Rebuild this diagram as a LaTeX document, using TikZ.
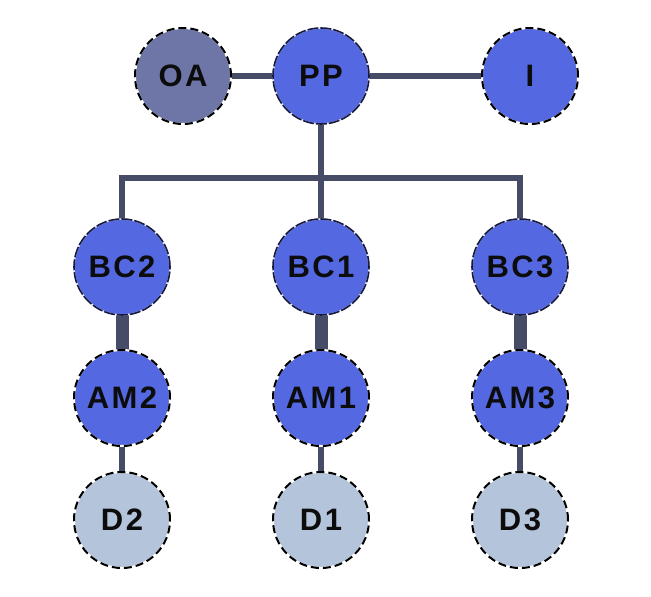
\documentclass[tikz,border=0pt]{standalone}
\usepackage{fontspec}
\setmainfont{Liberation Sans}
\definecolor{nodeblue}{RGB}{84,104,226}
\definecolor{nodegray}{RGB}{110,118,168}
\definecolor{nodelight}{RGB}{180,196,218}
\definecolor{linkc}{RGB}{70,76,102}
\definecolor{txt}{RGB}{12,12,12}
\definecolor{navyb}{RGB}{22,26,60}
\tikzset{
  circbase/.style={circle, minimum size=96pt, inner sep=0pt, fill=#1,
    font=\fontsize{31}{31}\bfseries\addfontfeatures{LetterSpace=8}, text=txt},
  circ/.style={circbase=#1,
    postaction={draw=white, line width=2pt},
    postaction={draw=black, line width=2pt, dash pattern=on 8pt off 4pt}},
  circm/.style={circbase=#1,
    postaction={draw=white!85!nodeblue, line width=1.6pt},
    postaction={draw=navyb, line width=1.6pt, dash pattern=on 11pt off 2pt}},
  link/.style={draw=linkc, line width=#1},
}
\begin{document}
\begin{tikzpicture}[x=1pt,y=-1pt]
\useasboundingbox (0,0) rectangle (651,597);
\fill[white] (0,0) rectangle (651,597);
\coordinate (pOA) at (183,76);
\coordinate (pPP) at (321,76);
\coordinate (pI) at (530,76);
% connectors first
\draw[link=6pt] (pOA) -- (pPP);
\draw[link=6pt] (pPP) -- (pI);
\coordinate (j) at (321,178);
\coordinate (jl) at (122,178);
\coordinate (jr) at (520,178);
\draw[link=5.5pt] (pPP) -- (j);
\draw[link=5.5pt, line join=miter] (122,230) -- (jl) -- (jr) -- (520,230);
\draw[link=5.5pt] (j) -- (321,230);
\foreach \x/\n in {122/2,321/1,520/3}{
  \draw[link=13pt] (\x,267) -- (\x,398);
  \draw[link=6pt] (\x,398) -- (\x,520);
}
\node[circ=nodegray] (OA) at (pOA) {OA};
\node[circm=nodeblue] (PP) at (pPP) {PP};
\node[circ=nodeblue] (I) at (pI) {I};
\node[circm=nodeblue] (BC2) at (122,267) {BC2};
\node[circm=nodeblue] (BC1) at (321,267) {BC1};
\node[circm=nodeblue] (BC3) at (520,267) {BC3};
\node[circ=nodeblue] (AM2) at (122,398) {AM2};
\node[circ=nodeblue] (AM1) at (321,398) {AM1};
\node[circ=nodeblue] (AM3) at (520,398) {AM3};
\node[circ=nodelight] (D2) at (122,520) {D2};
\node[circ=nodelight] (D1) at (321,520) {D1};
\node[circ=nodelight] (D3) at (520,520) {D3};
\end{tikzpicture}
\end{document}
